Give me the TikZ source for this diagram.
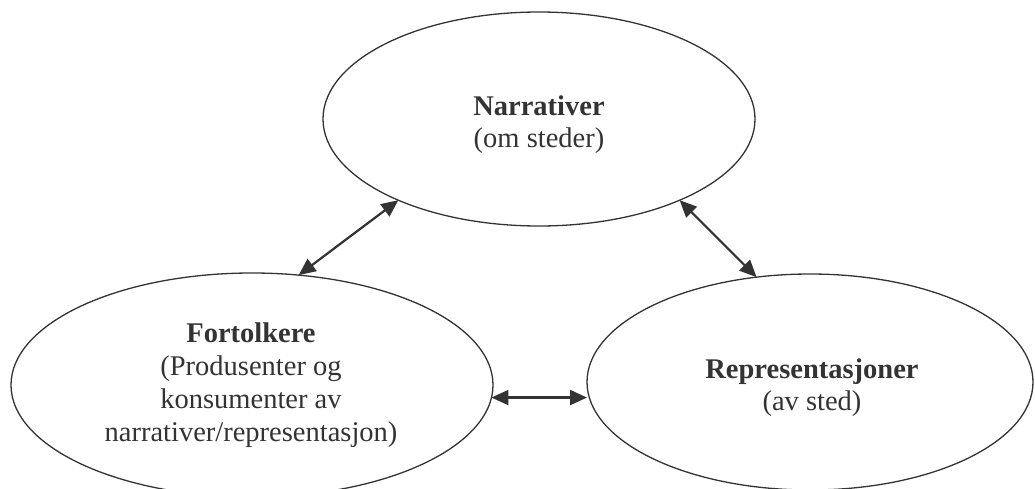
\documentclass[tikz,border=0pt]{standalone}
\usepackage{fontspec}
\setmainfont{Liberation Serif}
\usetikzlibrary{shapes.geometric,arrows.meta}
\definecolor{ink}{HTML}{333333}
\begin{document}
\begin{tikzpicture}[x=1pt,y=-1pt,
  oval/.style={ellipse,draw=ink,line width=1.3pt,inner sep=0pt,outer sep=0pt},
  lbl/.style={anchor=base,inner sep=0pt,text=ink,font=\fontsize{28.5}{32}\selectfont},
  ttl/.style={anchor=base,inner sep=0pt,text=ink,font=\fontsize{28.5}{32}\selectfont\bfseries},
  link/.style={draw=ink,line width=2.2pt,{Triangle[length=17pt,width=15pt]}-{Triangle[length=17pt,width=15pt]}}]
\useasboundingbox (0,0) rectangle (1035,488);
\clip (0,0) rectangle (1035,488);
% ellipses
\node[oval,minimum width=432pt,minimum height=214pt] (nar) at (539,119) {};
\node[oval,minimum width=482pt,minimum height=224pt] (fort) at (252,385) {};
\node[oval,minimum width=446pt,minimum height=216pt] (rep) at (810,382) {};
% texts
\node[ttl] (narA) at (539,115) {Narrativer};
\node[lbl] (narB) at (539,147) {(om steder)};
\node[ttl] (fortA) at (251,342) {Fortolkere};
\node[lbl] (fortB) at (251,375) {(Produsenter og};
\node[lbl] (fortC) at (251,408) {konsumenter av};
\node[lbl] (fortD) at (251,441) {narrativer/representasjon)};
\node[ttl] (repA) at (812,378) {Representasjoner};
\node[lbl] (repB) at (812,410) {(av sted)};
% connectors
\draw[link] (nar.210) -- (fort.67);
\draw[link] (nar.330) -- (rep.117);
\draw[link] (fort.-3) -- (fort.-3 -| rep.west);
\end{tikzpicture}
\end{document}
